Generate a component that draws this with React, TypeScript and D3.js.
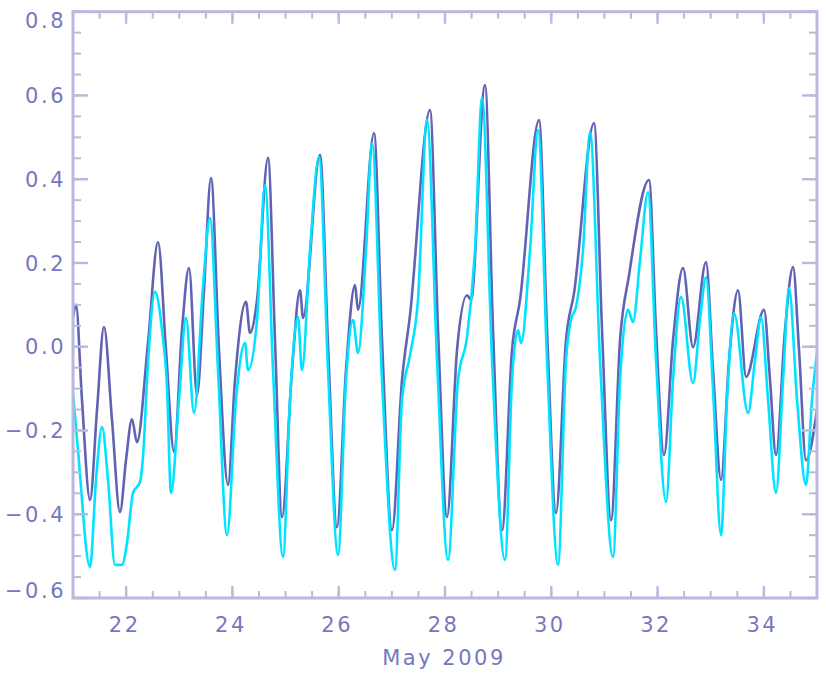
import React from "react";
import * as d3 from "d3";

// Time axis in days of May 2009, water level values
const darkTime = [21.0, 21.056, 21.169, 21.32, 21.452, 21.583, 21.734, 21.884, 21.997, 22.11, 22.204, 22.411, 22.6, 22.75, 22.901, 23.051, 23.183, 23.333, 23.465, 23.597, 23.747, 23.917, 24.048, 24.255, 24.331, 24.463, 24.67, 24.801, 24.933, 25.121, 25.272, 25.328, 25.648, 25.799, 25.968, 26.137, 26.307, 26.363, 26.664, 26.815, 27.003, 27.191, 27.342, 27.718, 27.869, 28.038, 28.226, 28.414, 28.49, 28.753, 28.904, 29.073, 29.261, 29.412, 29.769, 29.92, 30.089, 30.277, 30.428, 30.804, 30.955, 31.124, 31.294, 31.463, 31.839, 31.971, 32.121, 32.291, 32.479, 32.667, 32.911, 33.044, 33.194, 33.345, 33.514, 33.665, 34.003, 34.116, 34.229, 34.398, 34.549, 34.662, 34.793, 35.0];
const darkLevel = [0.069, 0.1, -0.127, -0.366, -0.151, 0.047, -0.175, -0.395, -0.271, -0.173, -0.228, 0.009, 0.25, -0.008, -0.251, 0.04, 0.188, -0.115, 0.135, 0.403, -0.008, -0.33, -0.08, 0.107, 0.033, 0.112, 0.451, 0.016, -0.407, -0.056, 0.135, 0.069, 0.458, 0.004, -0.431, -0.056, 0.147, 0.088, 0.51, 0.016, -0.438, -0.08, 0.076, 0.565, 0.04, -0.407, -0.008, 0.123, 0.112, 0.625, 0.04, -0.438, -0.008, 0.112, 0.541, 0.04, -0.397, 0.016, 0.128, 0.534, 0.04, -0.414, 0.016, 0.171, 0.398, 0.04, -0.259, 0.016, 0.188, -0.001, 0.202, -0.056, -0.318, -0.032, 0.135, -0.072, 0.088, -0.08, -0.259, 0.04, 0.19, -0.008, -0.271, -0.151];

const cyanTime = [21.0, 21.094, 21.32, 21.433, 21.546, 21.659, 21.79, 21.922, 22.016, 22.129, 22.261, 22.317, 22.411, 22.543, 22.675, 22.769, 22.844, 22.995, 23.126, 23.277, 23.446, 23.578, 23.729, 23.898, 24.067, 24.237, 24.293, 24.463, 24.613, 24.764, 24.952, 25.083, 25.234, 25.309, 25.46, 25.629, 25.799, 25.987, 26.137, 26.269, 26.363, 26.514, 26.627, 26.815, 27.059, 27.191, 27.342, 27.492, 27.662, 27.85, 28.057, 28.245, 28.414, 28.565, 28.697, 28.885, 29.129, 29.261, 29.374, 29.431, 29.6, 29.751, 29.92, 30.127, 30.277, 30.371, 30.465, 30.597, 30.729, 30.917, 31.162, 31.294, 31.444, 31.538, 31.67, 31.82, 31.971, 32.159, 32.291, 32.442, 32.667, 32.799, 32.912, 33.044, 33.194, 33.307, 33.439, 33.702, 33.834, 33.947, 34.079, 34.229, 34.361, 34.474, 34.625, 34.793, 34.906, 35.0];
const cyanLevel = [-0.111, -0.247, -0.526, -0.318, -0.192, -0.318, -0.521, -0.521, -0.469, -0.349, -0.323, -0.263, -0.039, 0.131, 0.04, -0.096, -0.349, -0.127, 0.069, -0.158, 0.143, 0.307, -0.056, -0.45, -0.127, 0.009, -0.056, 0.064, 0.386, -0.056, -0.502, -0.127, 0.071, -0.056, 0.231, 0.453, -0.056, -0.497, -0.08, 0.064, -0.015, 0.231, 0.486, -0.08, -0.533, -0.127, -0.02, 0.112, 0.541, -0.032, -0.509, -0.08, 0.023, 0.231, 0.594, -0.032, -0.509, -0.08, 0.04, 0.009, 0.231, 0.517, -0.032, -0.521, -0.032, 0.064, 0.095, 0.231, 0.513, -0.032, -0.502, -0.08, 0.088, 0.059, 0.207, 0.369, -0.032, -0.371, -0.08, 0.119, -0.087, 0.064, 0.166, -0.103, -0.45, -0.127, 0.08, -0.158, -0.032, 0.071, -0.127, -0.349, -0.08, 0.14, -0.127, -0.33, -0.127, -0.015];

const yTickValues = [-0.6, -0.4, -0.2, 0.0, 0.2, 0.4, 0.6, 0.8];
const yTickLabels = ["\u22120.6", "\u22120.4", "\u22120.2", "0.0", "0.2", "0.4", "0.6", "0.8"];
const xTickValues = [22, 24, 26, 28, 30, 32, 34];
const xTickLabels = ["22", "24", "26", "28", "30", "32", "34"];
const xTitle = "May 2009";

const W = 826;
const H = 678;
const L = 73, R = 817, T = 11.7, B = 598;

export default function App() {
  const x = d3.scaleLinear().domain([21, 35]).range([L, R]);
  const y = d3.scaleLinear().domain([-0.6, 0.8]).range([B, T]);

  const line = d3
    .line<[number, number]>()
    .x((d) => x(d[0]))
    .y((d) => y(d[1]))
    .curve(d3.curveMonotoneX);

  const darkPts = darkTime.map((t, i) => [t, darkLevel[i]] as [number, number]);
  const cyanPts = cyanTime.map((t, i) => [t, cyanLevel[i]] as [number, number]);

  const axisColor = "#b9b9dd";
  const textColor = "#7777c0";

  const yMinor = d3.range(-0.6, 0.8001, 0.05);
  const xMinor = d3.range(21, 35.001, 0.5);

  return (
    <svg
      width={W}
      height={H}
      style={{ position: "absolute", left: 0, top: 0, background: "#fff" }}
    >
      <defs>
        <clipPath id="plot">
          <rect x={L} y={T} width={R - L} height={B - T} />
        </clipPath>
      </defs>
      <g clipPath="url(#plot)">
        <path d={line(darkPts) || ""} fill="none" stroke="#6262b4" strokeWidth={2.6} strokeLinejoin="round" />
        <path d={line(cyanPts) || ""} fill="none" stroke="#00e3ff" strokeWidth={2.6} strokeLinejoin="round" />
      </g>
      {/* minor ticks */}
      {yMinor.map((v, i) => (
        <g key={"ym" + i} stroke={axisColor} strokeWidth={2}>
          <line x1={L} x2={L + 8} y1={y(v)} y2={y(v)} />
          <line x1={R} x2={R - 8} y1={y(v)} y2={y(v)} />
        </g>
      ))}
      {xMinor.map((v, i) => (
        <g key={"xm" + i} stroke={axisColor} strokeWidth={2}>
          <line x1={x(v)} x2={x(v)} y1={B} y2={B - 7} />
          <line x1={x(v)} x2={x(v)} y1={T} y2={T + 7} />
        </g>
      ))}
      {/* major ticks */}
      {yTickValues.map((v, i) => (
        <g key={"yM" + i} stroke={axisColor} strokeWidth={2.4}>
          <line x1={L} x2={L + 15} y1={y(v)} y2={y(v)} />
          <line x1={R} x2={R - 15} y1={y(v)} y2={y(v)} />
        </g>
      ))}
      {xTickValues.map((v, i) => (
        <g key={"xM" + i} stroke={axisColor} strokeWidth={2.4}>
          <line x1={x(v)} x2={x(v)} y1={B} y2={B - 12} />
          <line x1={x(v)} x2={x(v)} y1={T} y2={T + 12} />
        </g>
      ))}
      <rect x={L} y={T} width={R - L} height={B - T} fill="none" stroke={axisColor} strokeWidth={3} />
      {/* labels */}
      {yTickValues.map((v, i) => (
        <text
          key={"yl" + i}
          x={66}
          y={Math.min(Math.max(y(v), 20), 590)}
          dy="0.36em"
          textAnchor="end"
          fontFamily="DejaVu Sans, sans-serif"
          fontSize={21}
          letterSpacing={2.5}
          fill={textColor}
        >
          {yTickLabels[i]}
        </text>
      ))}
      {xTickValues.map((v, i) => (
        <text
          key={"xl" + i}
          x={x(v) - 1.5}
          y={632}
          textAnchor="middle"
          fontFamily="DejaVu Sans, sans-serif"
          fontSize={21}
          letterSpacing={2.5}
          fill={textColor}
        >
          {xTickLabels[i]}
        </text>
      ))}
      <text
        x={444}
        y={665}
        textAnchor="middle"
        fontFamily="DejaVu Sans, sans-serif"
        fontSize={21}
        letterSpacing={2.5}
        fill={textColor}
      >
        {xTitle}
      </text>
    </svg>
  );
}
